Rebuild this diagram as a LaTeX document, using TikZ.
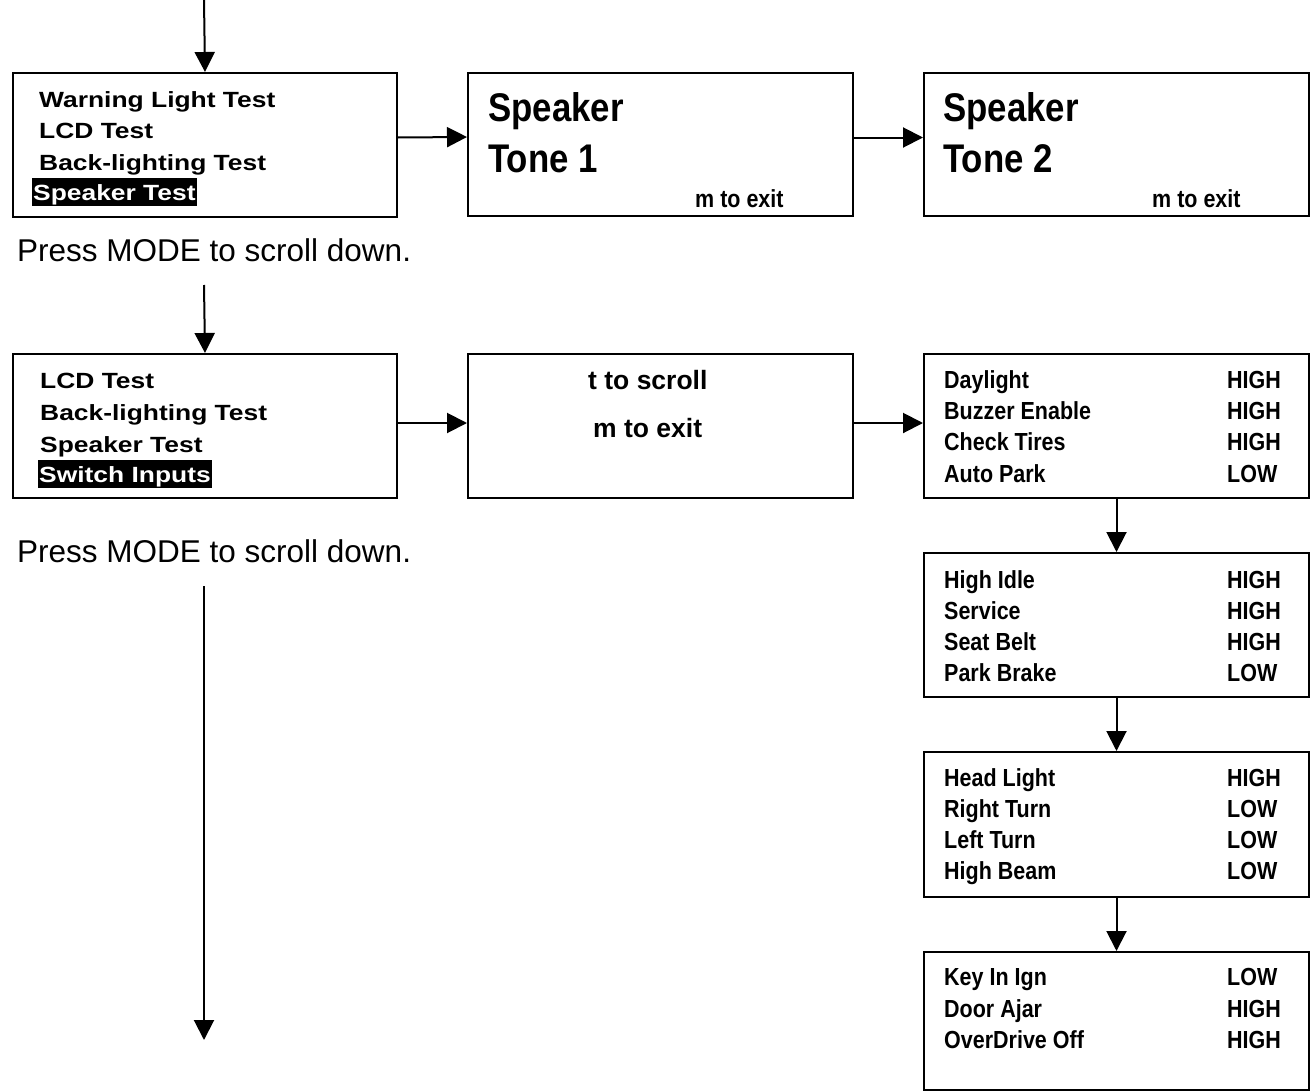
\documentclass[tikz,border=0pt]{standalone}
\usepackage{fontspec}
\usepackage{graphicx}
\setmainfont{Liberation Sans}
\usetikzlibrary{arrows.meta}
\newcommand{\txtL}[1]{\scalebox{1.2}[1]{\fontsize{22pt}{26pt}\selectfont\bfseries #1}}
\newcommand{\txtR}[1]{\scalebox{0.87}[1]{\fontsize{24.7pt}{28pt}\selectfont\bfseries #1}}
\newcommand{\txtB}[1]{\scalebox{0.87}[1]{\fontsize{40pt}{44pt}\selectfont\bfseries #1}}
\newcommand{\txtM}[1]{{\fontsize{26.5pt}{30pt}\selectfont\bfseries #1}}
\newcommand{\txtN}[1]{{\fontsize{31.5pt}{36pt}\selectfont #1}}
\begin{document}
\begin{tikzpicture}[x=1pt,y=-1pt,
  box/.style={draw, line width=2pt, inner sep=0pt, anchor=north west},
  lbl/.style={inner sep=0pt, anchor=base west},
  hl/.style={fill=black, text=white, inner xsep=1pt, inner ysep=1pt, anchor=base west, text height=21pt, text depth=5pt},
  conn/.style={line width=2pt, -{Triangle[width=20pt,length=20pt]}}]
\useasboundingbox (0,0) rectangle (1315,1092);
\fill[white] (0,0) rectangle (1315,1092);
% boxes
\node[box, minimum width=384pt, minimum height=144pt] (A1) at (12,72) {};
\node[box, minimum width=385pt, minimum height=143pt] (B1) at (467,72) {};
\node[box, minimum width=385pt, minimum height=143pt] (C1) at (923,72) {};
\node[box, minimum width=384pt, minimum height=144pt] (A2) at (12,353) {};
\node[box, minimum width=385pt, minimum height=144pt] (B2) at (467,353) {};
\node[box, minimum width=385pt, minimum height=144pt] (C2) at (923,353) {};
\node[box, minimum width=385pt, minimum height=144pt] (C3) at (923,552) {};
\node[box, minimum width=385pt, minimum height=145pt] (C4) at (923,751) {};
\node[box, minimum width=385pt, minimum height=138pt] (C5) at (923,951) {};
% A1 text
\node[lbl] (a1t1) at (39,107) {\txtL{Warning Light Test}};
\node[lbl] (a1t2) at (39,138.5) {\txtL{LCD Test}};
\node[lbl] (a1t3) at (39,170) {\txtL{Back-lighting Test}};
\node[hl] (a1t4) at (32,200) {\txtL{Speaker Test}};
% B1, C1 text
\node[lbl] (b1t1) at (488,121) {\txtB{Speaker}};
\node[lbl] (b1t2) at (488,172) {\txtB{Tone 1}};
\node[lbl] (b1t3) at (695,207) {\txtR{m to exit}};
\node[lbl] (c1t1) at (943,121) {\txtB{Speaker}};
\node[lbl] (c1t2) at (943,172) {\txtB{Tone 2}};
\node[lbl] (c1t3) at (1152,207) {\txtR{m to exit}};
% notes
\node[lbl] (n1) at (17,261) {\txtN{Press MODE to scroll down.}};
\node[lbl] (n2) at (17,562) {\txtN{Press MODE to scroll down.}};
% A2 text
\node[lbl] (a2t1) at (40,388) {\txtL{LCD Test}};
\node[lbl] (a2t2) at (40,420) {\txtL{Back-lighting Test}};
\node[lbl] (a2t3) at (40,452) {\txtL{Speaker Test}};
\node[hl] (a2t4) at (38,482) {\txtL{Switch Inputs}};
% B2 text
\node[lbl] (b2t1) at (588,389) {\txtM{t to scroll}};
\node[lbl] (b2t2) at (593,437) {\txtM{m to exit}};
% C2
\node[lbl] (c2l1) at (944,388) {\txtR{Daylight}};
\node[lbl] (c2v1) at (1227,388) {\txtR{HIGH}};
\node[lbl] (c2l2) at (944,419) {\txtR{Buzzer Enable}};
\node[lbl] (c2v2) at (1227,419) {\txtR{HIGH}};
\node[lbl] (c2l3) at (944,450) {\txtR{Check Tires}};
\node[lbl] (c2v3) at (1227,450) {\txtR{HIGH}};
\node[lbl] (c2l4) at (944,482) {\txtR{Auto Park}};
\node[lbl] (c2v4) at (1227,482) {\txtR{LOW}};
% C3
\node[lbl] (c3l1) at (944,588) {\txtR{High Idle}};
\node[lbl] (c3v1) at (1227,588) {\txtR{HIGH}};
\node[lbl] (c3l2) at (944,619) {\txtR{Service}};
\node[lbl] (c3v2) at (1227,619) {\txtR{HIGH}};
\node[lbl] (c3l3) at (944,650) {\txtR{Seat Belt}};
\node[lbl] (c3v3) at (1227,650) {\txtR{HIGH}};
\node[lbl] (c3l4) at (944,681) {\txtR{Park Brake}};
\node[lbl] (c3v4) at (1227,681) {\txtR{LOW}};
% C4
\node[lbl] (c4l1) at (944,786) {\txtR{Head Light}};
\node[lbl] (c4v1) at (1227,786) {\txtR{HIGH}};
\node[lbl] (c4l2) at (944,817) {\txtR{Right Turn}};
\node[lbl] (c4v2) at (1227,817) {\txtR{LOW}};
\node[lbl] (c4l3) at (944,848) {\txtR{Left Turn}};
\node[lbl] (c4v3) at (1227,848) {\txtR{LOW}};
\node[lbl] (c4l4) at (944,879) {\txtR{High Beam}};
\node[lbl] (c4v4) at (1227,879) {\txtR{LOW}};
% C5
\node[lbl] (c5l1) at (944,985) {\txtR{Key In Ign}};
\node[lbl] (c5v1) at (1227,985) {\txtR{LOW}};
\node[lbl] (c5l2) at (944,1017) {\txtR{Door Ajar}};
\node[lbl] (c5v2) at (1227,1017) {\txtR{HIGH}};
\node[lbl] (c5l3) at (944,1048) {\txtR{OverDrive Off}};
\node[lbl] (c5v3) at (1227,1048) {\txtR{HIGH}};
% connectors
\coordinate (s1) at (204,0);
\coordinate (s2) at (204,285);
\coordinate (s3) at (204,586);
\coordinate (e3) at (204,1040);
\draw[conn] (s1) -- (A1.north);
\draw[conn] ([yshift=7.5pt]A1.east) -- ([yshift=7.5pt]B1.west);
\draw[conn] ([yshift=7pt]B1.east) -- ([yshift=7pt]C1.west);
\draw[conn] (s2) -- (A2.north);
\draw[conn] ([yshift=3pt]A2.east) -- ([yshift=3pt]B2.west);
\draw[conn] ([yshift=3pt]B2.east) -- ([yshift=3pt]C2.west);
\draw[conn] (C2.south) -- (C3.north);
\draw[conn] (C3.south) -- (C4.north);
\draw[conn] (C4.south) -- (C5.north);
\draw[conn] (s3) -- (e3);
\end{tikzpicture}
\end{document}
